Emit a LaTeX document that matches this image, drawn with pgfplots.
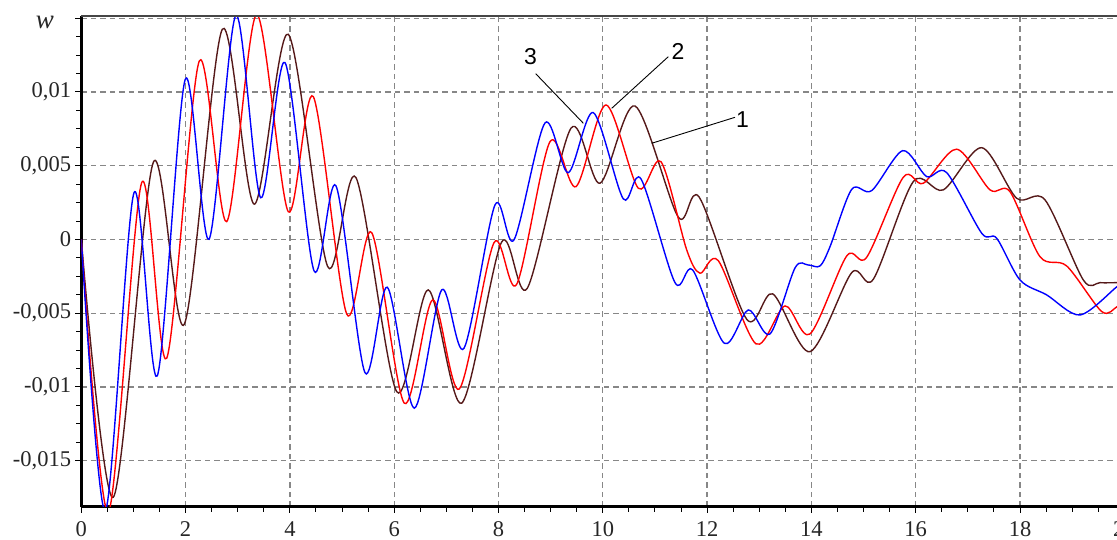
\documentclass[border=0pt]{standalone}
\usepackage{fontspec}
\setmainfont{Liberation Serif}
\newfontfamily\arialf{Liberation Sans}
\usepackage{pgfplots}
\pgfplotsset{compat=1.18}
\definecolor{c1}{RGB}{85,25,25}
\definecolor{c2}{RGB}{255,0,0}
\definecolor{c3}{RGB}{0,0,255}
\definecolor{gridc}{RGB}{135,135,135}
\definecolor{topc}{RGB}{70,70,70}
\begin{document}
\begin{tikzpicture}
\begin{axis}[
 scale only axis, width=1043pt, height=491pt,
 xmin=0, xmax=20, ymin=-18.12, ymax=15.17,
 axis x line*=bottom, axis y line*=left,
 axis line style={black, line width=2.5pt},
 xtick={0,2,...,20}, xticklabels={0,2,4,6,8,10,12,14,16,18,20},
 ytick={-15,-10,-5,0,5,10,15},
 yticklabels={{-0,015},{-0,01},{-0,005},0,{0,005},{0,01},{}},
 minor x tick num=3, minor y tick num=3,
 tick align=outside, major tick length=6pt, minor tick length=5pt,
 tick style={black, line width=1pt},
 grid=major, major grid style={gridc, dash pattern=on 5.5pt off 4pt, line width=1.3pt},
 ticklabel style={font=\fontsize{22.5}{26}\selectfont, inner sep=0pt, text=black!85},
 yticklabel style={xshift=-4pt},
 xticklabel style={yshift=-9pt},
 every axis plot/.append style={line width=1.4pt, smooth},
]
\coordinate (O) at (rel axis cs:0,0);
\coordinate (TL) at (rel axis cs:0,1);
\coordinate (TR) at (rel axis cs:1,1);
% curve 1 (brown)
\addplot[c1] coordinates {
(0,0) (0.614,-17.48) (1.381,5.23) (1.975,-5.75) (2.704,14.25) (3.317,2.39)
(3.969,13.91) (4.725,-1.84) (5.267,4.19) (6.048,-10.32) (6.654,-3.42)
(7.294,-11.10) (8.061,-0.17) (8.552,-3.31) (9.390,7.54) (9.946,3.81)
(10.617,9.05) (11.448,1.51) (11.850,2.86) (12.759,-5.41) (13.258,-3.69)
(13.973,-7.61) (14.773,-2.25) (15.187,-2.70) (15.954,3.92) (16.529,3.36)
(17.266,6.22) (17.937,2.79) (18.480,2.68) (19.214,-2.75) (19.534,-2.93) (19.86,-2.93) (20,-2.93)
};
% curve 2 (red)
\addplot[c2] coordinates {
(0,0) (0.518,-18.5) (1.158,3.85) (1.638,-8.05) (2.263,12.10) (2.788,1.21)
(3.363,15.25) (3.969,1.88) (4.449,9.68) (5.089,-5.05) (5.569,0.46)
(6.194,-11.10) (6.738,-4.10) (7.248,-10.14) (7.914,-0.22) (8.349,-3.04)
(8.988,6.63) (9.486,3.58) (10.061,9.12) (10.681,3.47) (11.116,5.27)
(11.609,-0.71) (11.864,-2.29) (12.215,-1.44) (12.938,-7.08) (13.494,-4.51)
(13.973,-6.41) (14.677,-1.12) (15.060,-1.21) (15.762,4.22) (16.146,3.81)
(16.786,6.12) (17.425,3.36) (17.808,3.24) (18.383,-1.17) (18.896,-1.80)
(19.567,-4.89) (19.86,-4.56) (20,-4.3)
};
% curve 3 (blue)
\addplot[c3] coordinates {
(0,0) (0.46,-18.4) (1.011,3.17) (1.457,-9.25) (1.994,10.86) (2.449,0.01)
(2.966,15.2) (3.440,2.83) (3.906,11.99) (4.462,-2.12) (4.884,3.63)
(5.440,-9.03) (5.868,-3.24) (6.385,-11.44) (6.911,-3.42) (7.338,-7.38)
(7.933,2.34) (8.297,-0.03) (8.892,7.90) (9.338,4.53) (9.818,8.60)
(10.393,2.75) (10.733,4.10) (11.385,-2.93) (11.724,-2.07) (12.330,-7.04)
(12.790,-4.78) (13.206,-6.41) (13.686,-1.93) (13.935,-1.73) (14.165,-1.80)
(14.357,-0.49) (14.773,3.40) (15.156,3.31) (15.751,6.02) (16.211,4.26)
(16.594,4.53) (17.266,0.42) (17.553,0.08) (18.000,-2.75) (18.512,-3.76)
(19.151,-5.12) (19.86,-3.20) (20,-2.9)
};
% leader lines and curve numbers
\draw[black, line width=0.9pt] (axis cs:8.713,11.24) -- (axis cs:9.626,7.88);
\draw[black, line width=0.9pt] (axis cs:11.256,12.39) -- (axis cs:10.171,8.89);
\draw[black, line width=0.9pt] (axis cs:12.535,8.28) -- (axis cs:10.938,6.52);
\node[font=\arialf\fontsize{23}{27}\selectfont, inner sep=0pt] at (axis cs:8.614,12.41) {3};
\node[font=\arialf\fontsize{23}{27}\selectfont, inner sep=0pt] at (axis cs:11.442,12.75) {2};
\node[font=\arialf\fontsize{23}{27}\selectfont, inner sep=0pt] at (axis cs:12.679,8.10) {1};
\end{axis}
\draw[topc, line width=2pt] (TL) -- (TR);
\node[font=\itshape\fontsize{27}{30}\selectfont, inner sep=0pt, text=black!85] at ([shift={(-36.3pt,-6.3pt)}]TL) {w};
\pgfresetboundingbox
\path[use as bounding box] ([shift={(-81.3pt,-33.3pt)}]O) rectangle ++(1117pt,540pt);
\end{tikzpicture}
\end{document}
